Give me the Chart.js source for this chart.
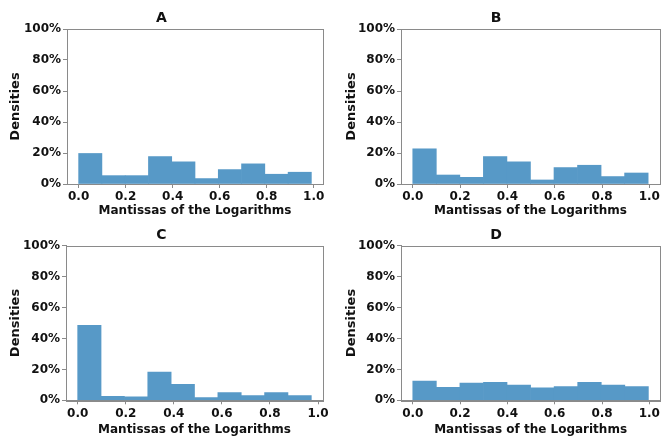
<!DOCTYPE html>
<html>
<head>
<meta charset="utf-8">
<script src="https://cdn.jsdelivr.net/npm/chart.js@4.4.1/dist/chart.umd.min.js"></script>
<style>
  html, body { margin: 0; padding: 0; background: #fff; }
  #wrap { position: relative; width: 662px; height: 439px; }
  .panel { position: absolute; }
</style>
</head>
<body>
<div id="wrap">
  <div class="panel" style="left:0;top:0;width:331px;height:222px"><canvas id="cA"></canvas></div>
  <div class="panel" style="left:331px;top:0;width:331px;height:222px"><canvas id="cB"></canvas></div>
  <div class="panel" style="left:0;top:222px;width:331px;height:217px"><canvas id="cC"></canvas></div>
  <div class="panel" style="left:331px;top:222px;width:331px;height:217px"><canvas id="cD"></canvas></div>
</div>
<script>
// histogram densities (%) per panel, 10 bins from 0 to the largest mantissa
const titles = ['A', 'B', 'C', 'D'];
const densA = [19.7, 5.4, 5.4, 17.7, 14.3, 3.5, 9.3, 13.0, 6.3, 7.6];
const densB = [22.7, 5.8, 4.3, 17.7, 14.3, 2.6, 10.6, 12.1, 4.8, 7.1];
const densC = [48.5, 2.6, 2.2, 18.3, 10.3, 1.7, 5.0, 3.0, 5.0, 3.0];
const densD = [12.5, 8.4, 11.2, 11.6, 9.9, 8.0, 8.8, 11.6, 9.9, 8.8];
const binMax = [0.99, 0.995, 0.972, 0.996];
const xTicks = [0, 0.2, 0.4, 0.6, 0.8, 1.0];
const yTicks = [0, 20, 40, 60, 80, 100];
const xLabel = 'Mantissas of the Logarithms';
const yLabel = 'Densities';

const barColor = 'rgb(87,153,199)';
const spineColor = '#8a8a8a';
const font = 'DejaVu Sans';

// per panel layout: [yAxisWidth, rightPad, titlePadTop, titlePadBottom, xAxisHeight, yTitlePad, xTitlePadBottom]
const layouts = [
  [67, 8, 10, 2.2, 38, 7.5, 3.8],
  [70, 1, 10, 2.2, 38, 12.5, 3.8],
  [66, 8, 5.4, 1.5, 38.7, 7.5, 1.8],
  [70, 1, 5.4, 1.5, 38.7, 12.5, 1.8]
];

const boxPlugin = {
  id: 'box',
  afterDraw(chart) {
    const a = chart.chartArea, ctx = chart.ctx;
    ctx.save();
    ctx.strokeStyle = spineColor;
    ctx.lineWidth = 1;
    ctx.strokeRect(Math.round(a.left) + 0.5, Math.round(a.top) + 0.5,
      Math.round(a.right - a.left), Math.round(a.bottom - a.top));
    ctx.restore();
  }
};

function makeChart(id, title, dens, maxVal, lay) {
  const w = maxVal / dens.length;
  const pts = dens.map((v, i) => ({ x: w * (i + 0.5), y: v }));
  const [yw, rp, tpt, tpb, xh, ytp, xtpb] = lay;
  return new Chart(document.getElementById(id), {
    type: 'bar',
    data: {
      datasets: [{
        data: pts,
        backgroundColor: barColor,
        borderWidth: 0,
        barPercentage: 1,
        categoryPercentage: 1
      }]
    },
    options: {
      responsive: true,
      maintainAspectRatio: false,
      animation: false,
      layout: { padding: { left: 0, right: rp, top: 0, bottom: 0 } },
      plugins: {
        legend: { display: false },
        tooltip: { enabled: false },
        title: {
          display: true,
          text: title,
          color: '#111',
          font: { family: font, size: 14, weight: 'bold' },
          padding: { top: tpt, bottom: tpb }
        }
      },
      scales: {
        x: {
          type: 'linear',
          offset: false,
          min: -0.05 * maxVal,
          max: maxVal * 1.05,
          afterBuildTicks: s => { s.ticks = xTicks.map(v => ({ value: v })); },
          afterFit: s => { s.height = xh; },
          ticks: {
            color: '#111',
            padding: 2,
            maxRotation: 0,
            autoSkip: false,
            font: { family: font, size: 12, weight: 'bold' },
            callback: v => v.toFixed(1)
          },
          grid: { offset: false, drawOnChartArea: false, drawTicks: true, tickLength: 4, color: spineColor },
          border: { display: true, color: spineColor },
          title: {
            display: true,
            text: xLabel,
            color: '#111',
            font: { family: font, size: 12, weight: 'bold' },
            padding: { top: 0, bottom: xtpb }
          }
        },
        y: {
          min: 0,
          max: 100,
          afterBuildTicks: s => { s.ticks = yTicks.map(v => ({ value: v })); },
          afterFit: s => { s.width = yw; },
          ticks: {
            color: '#111',
            padding: 2,
            font: { family: font, size: 12, weight: 'bold' },
            callback: v => v + '%'
          },
          grid: { drawOnChartArea: false, drawTicks: true, tickLength: 4, color: spineColor },
          border: { display: true, color: spineColor },
          title: {
            display: true,
            text: yLabel,
            color: '#111',
            font: { family: font, size: 13, weight: 'bold' },
            padding: { top: ytp, bottom: 0 }
          }
        }
      }
    },
    plugins: [boxPlugin]
  });
}

makeChart('cA', titles[0], densA, binMax[0], layouts[0]);
makeChart('cB', titles[1], densB, binMax[1], layouts[1]);
makeChart('cC', titles[2], densC, binMax[2], layouts[2]);
makeChart('cD', titles[3], densD, binMax[3], layouts[3]);
</script>
</body>
</html>
